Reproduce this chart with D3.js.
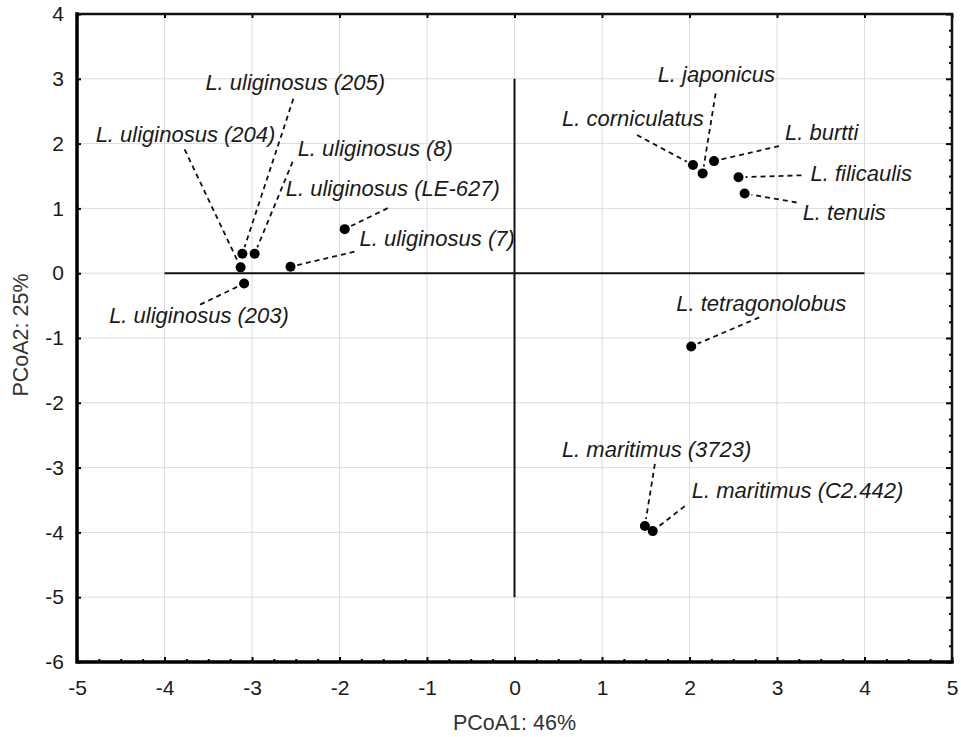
<!DOCTYPE html>
<html lang="en">
<head>
	<meta charset="utf-8">
	<title>PCoA of Lotus species</title>
	<script src="https://cdn.jsdelivr.net/npm/d3@7/dist/d3.min.js"></script>
	<style>
		body {
		    margin: 0;
		    background: #fff;
		    font-family: "Liberation Sans", Arial, sans-serif;
		}
		.grid line {
		    stroke: #dcdcdc;
		    stroke-width: 1;
		}
		.tick text {
		    font-size: 21px;
		    fill: #1a1a1a;
		}
		.label {
		    font-size: 22px;
		    font-style: italic;
		    fill: #1a1a1a;
		}
		.leader {
		    stroke: #111;
		    stroke-width: 1.8;
		    stroke-dasharray: 5 4;
		    fill: none;
		}
		.title {
		    font-size: 21.5px;
		    fill: #333;
		}
	</style>
</head>
<body>
	<script>
		// data
		var names = [
			"L. uliginosus (205)", "L. uliginosus (204)", "L. uliginosus (8)",
			"L. uliginosus (LE-627)", "L. uliginosus (7)", "L. uliginosus (203)",
			"L. corniculatus", "L. japonicus", "L. burtti", "L. filicaulis", "L. tenuis",
			"L. tetragonolobus", "L. maritimus (3723)", "L. maritimus (C2.442)"
		];
		var pcoa1 = [-3.11, -3.13, -2.97, -1.94, -2.56, -3.09, 2.04, 2.15, 2.28, 2.56, 2.63, 2.02, 1.49, 1.58];
		var pcoa2 = [0.30, 0.09, 0.30, 0.68, 0.10, -0.16, 1.67, 1.54, 1.73, 1.48, 1.23, -1.13, -3.90, -3.98];

		var xTicks = [-5, -4, -3, -2, -1, 0, 1, 2, 3, 4, 5];
		var yTicks = [-6, -5, -4, -3, -2, -1, 0, 1, 2, 3, 4];
		var crossX = [-4, 4];   // horizontal origin line extent
		var crossY = [-5, 3];   // vertical origin line extent
		var xTitle = "PCoA1: 46%";
		var yTitle = "PCoA2: 25%";

		// label placement: [text dx, text dy, leader dx, leader dy] in px from the point
		var labelOffsets = [
			[-37, -164, 51, -155], [-145, -125, -56, -118], [43, -98, 38, -92],
			[-59, -33, 43, -21], [69, -21, 64, -15], [-135, 39, -44, 21],
			[-131, -39, -56, -30], [-45, -91, 13, -80], [71, -21, 65, -15],
			[72, 4, 63, -2], [58, 27, 52, 9],
			[-15, -35, 68, -29], [-83, -69, 10, -62], [39, -33, 32, -25]
		];

		var width = 961;
		var height = 737;
		var margin = {top: 14, right: 9, bottom: 75, left: 77};
		var w = width - margin.left - margin.right;
		var h = height - margin.top - margin.bottom;

		var svg = d3.select("body")
		    .append("svg")
		    .attr("width", width)
		    .attr("height", height);

		var g = svg.append("g")
		    .attr("transform", "translate(" + margin.left + "," + margin.top + ")");

		var x = d3.scaleLinear().domain([-5, 5]).range([0, w]);
		var y = d3.scaleLinear().domain([-6, 4]).range([h, 0]);

		// grid
		var grid = g.append("g").attr("class", "grid");
		grid.selectAll(".gx")
			.data(xTicks.slice(1, -1))
			.enter().append("line")
			.attr("x1", function(d) { return x(d); })
			.attr("x2", function(d) { return x(d); })
			.attr("y1", 0).attr("y2", h);
		grid.selectAll(".gy")
			.data(yTicks.slice(1, -1))
			.enter().append("line")
			.attr("y1", function(d) { return y(d); })
			.attr("y2", function(d) { return y(d); })
			.attr("x1", 0).attr("x2", w);

		// origin cross
		g.append("line")
			.attr("x1", x(crossX[0])).attr("x2", x(crossX[1]))
			.attr("y1", y(0)).attr("y2", y(0))
			.attr("stroke", "#111").attr("stroke-width", 2);
		g.append("line")
			.attr("x1", x(0)).attr("x2", x(0))
			.attr("y1", y(crossY[0])).attr("y2", y(crossY[1]))
			.attr("stroke", "#111").attr("stroke-width", 2);

		// minor ticks (quarter steps)
		var minorX = d3.range(-5, 5.001, 0.25).filter(function(d) { return d % 1 !== 0; });
		var minorY = d3.range(-6, 4.001, 0.25).filter(function(d) { return d % 1 !== 0; });
		var plain = function(d) { return String(d); };
		var tidy = function(a) { a.select(".domain").remove(); a.selectAll("line").attr("stroke-width", 2); };

		g.append("g")
			.attr("transform", "translate(0," + h + ")")
			.call(d3.axisBottom(x).tickValues(minorX).tickSize(-3).tickFormat(""))
			.call(tidy);
		g.append("g")
			.attr("transform", "translate(" + w + ",0)")
			.call(d3.axisRight(y).tickValues(minorY).tickSize(-3).tickFormat(""))
			.call(tidy);

		// major axes
		g.append("g")
			.attr("transform", "translate(0," + h + ")")
			.call(d3.axisBottom(x).tickValues(xTicks).tickSize(-5).tickPadding(18).tickFormat(plain))
			.call(tidy)
			.selectAll("text").attr("font-family", "Liberation Sans, Arial, sans-serif");
		g.append("g")
			.call(d3.axisLeft(y).tickValues(yTicks).tickSize(-4).tickPadding(13).tickFormat(plain))
			.call(tidy)
			.selectAll("text").attr("font-family", "Liberation Sans, Arial, sans-serif");
		g.append("g")
			.call(d3.axisTop(x).tickValues(xTicks).tickSize(-4).tickFormat(""))
			.call(tidy);
		g.append("g")
			.attr("transform", "translate(" + w + ",0)")
			.call(d3.axisRight(y).tickValues(yTicks).tickSize(-6).tickFormat(""))
			.call(tidy);

		// frame
		g.append("path")
			.attr("d", "M0,0H" + w + "V" + h)
			.attr("fill", "none").attr("stroke", "#111").attr("stroke-width", 2.5);
		g.append("path")
			.attr("d", "M0,0V" + h + "H" + w)
			.attr("fill", "none").attr("stroke", "#000").attr("stroke-width", 3.5)
			.attr("stroke-linecap", "square");

		// points with labels
		var pts = names.map(function(n, i) {
			return {name: n, px: x(pcoa1[i]), py: y(pcoa2[i]), off: labelOffsets[i]};
		});

		g.selectAll(".leader")
			.data(pts)
			.enter().append("line")
			.attr("class", "leader")
			.each(function(d) {
				var sx = d.px + d.off[2], sy = d.py + d.off[3];
				var dx = sx - d.px, dy = sy - d.py;
				var len = Math.sqrt(dx * dx + dy * dy);
				var gap = 7;
				d3.select(this)
					.attr("x1", sx).attr("y1", sy)
					.attr("x2", d.px + dx / len * gap)
					.attr("y2", d.py + dy / len * gap);
			});

		g.selectAll(".pt")
			.data(pts)
			.enter().append("circle")
			.attr("class", "pt")
			.attr("cx", function(d) { return d.px; })
			.attr("cy", function(d) { return d.py; })
			.attr("r", 5)
			.attr("fill", "#000");

		g.selectAll(".label")
			.data(pts)
			.enter().append("text")
			.attr("class", "label")
			.attr("x", function(d) { return d.px + d.off[0]; })
			.attr("y", function(d) { return d.py + d.off[1]; })
			.text(function(d) { return d.name; });

		// axis titles
		svg.append("text")
			.attr("class", "title")
			.attr("text-anchor", "middle")
			.attr("x", margin.left + x(0))
			.attr("y", 730)
			.text(xTitle);
		svg.append("text")
			.attr("class", "title")
			.attr("text-anchor", "middle")
			.attr("transform", "translate(28," + 335 + ") rotate(-90)")
			.text(yTitle);
	</script>
</body>
</html>
